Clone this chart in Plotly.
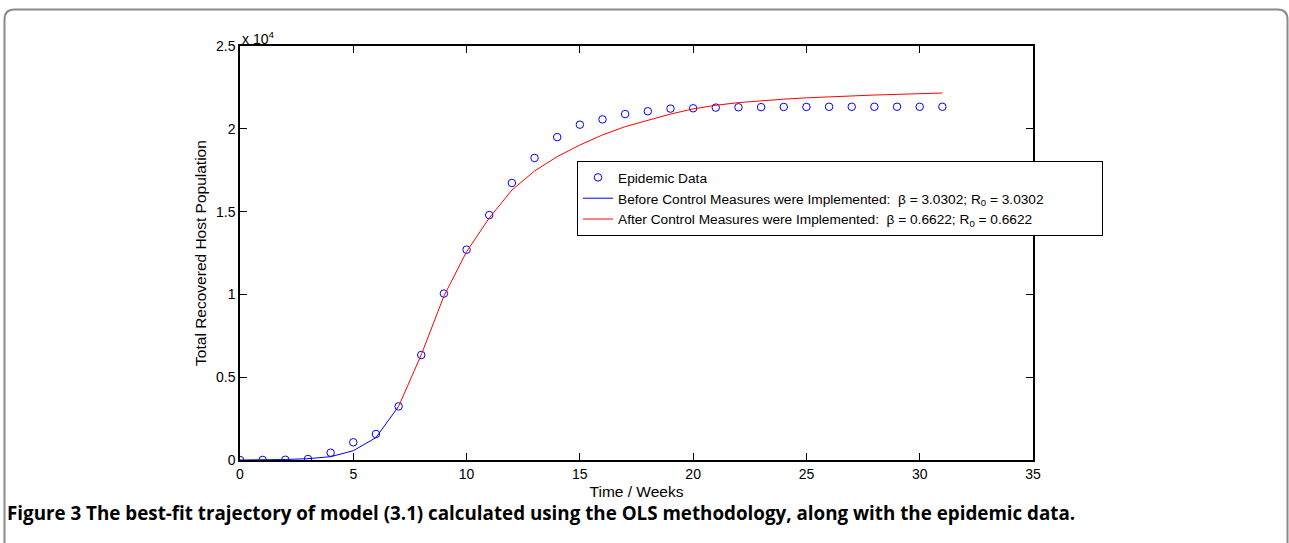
import plotly.graph_objects as go

# ---- data ----
weeks = list(range(0, 32))
epidemic_data = [0, 5, 15, 60, 440, 1070, 1570, 3240, 6340, 10050, 12700, 14790,
                 16730, 18240, 19500, 20250, 20570, 20890, 21060, 21220, 21240,
                 21280, 21300, 21310, 21320, 21320, 21330, 21330, 21330, 21330,
                 21330, 21330]

before_t = list(range(0, 8))
before_model = [0, 10, 30, 80, 200, 560, 1350, 3240]

after_t = list(range(7, 32))
after_model = [3240, 6350, 9900, 12580, 14610, 16300, 17450, 18320, 19020, 19630,
               20130, 20530, 20890, 21200, 21420, 21580, 21700, 21790, 21870,
               21940, 21990, 22040, 22080, 22120, 22160]

x_ticks = [0, 5, 10, 15, 20, 25, 30, 35]
y_ticks = [0, 5000, 10000, 15000, 20000, 25000]
y_tick_labels = ["0", "0.5", "1", "1.5", "2", "2.5"]

names = [
    "Epidemic Data",
    "Before Control Measures were Implemented:  \u03b2 = 3.0302; R<sub>0</sub> = 3.0302",
    "After Control Measures were Implemented:  \u03b2 = 0.6622; R<sub>0</sub> = 0.6622",
]
caption = ("<b>Figure 3 The best-fit trajectory of model (3.1) calculated using the OLS "
           "methodology, along with the epidemic data.</b>")

W, H = 1289, 543
L, R, T, B = 240, 256, 46, 83
PW, PH = W - L - R, H - T - B


def px(x):
    return (x - L) / PW


def py(y):
    return (H - B - y) / PH


FONT = "Liberation Sans, Arial, Helvetica, sans-serif"
pad = "\u00a0" * 17

fig = go.Figure()
fig.add_trace(go.Scatter(x=weeks, y=epidemic_data, mode="markers", name=names[0],
                         marker=dict(symbol="circle-open", size=7.5, color="#0000ff",
                                     line=dict(width=1, color="#0000ff"))))
fig.add_trace(go.Scatter(x=before_t, y=before_model, mode="lines", name=names[1],
                         line=dict(color="#0000ff", width=1)))
fig.add_trace(go.Scatter(x=after_t, y=after_model, mode="lines", name=names[2] + pad,
                         line=dict(color="#ff0000", width=1)))

axis_common = dict(showline=True, linecolor="black", linewidth=1.5, mirror="ticks",
                   ticks="inside", ticklen=7, tickcolor="black", tickwidth=1,
                   showgrid=False, zeroline=False,
                   tickfont=dict(family=FONT, size=14, color="black"))

fig.update_xaxes(range=[0, 35], tickvals=x_ticks, ticktext=[str(v) for v in x_ticks],
                 title=dict(text="Time / Weeks", font=dict(family=FONT, size=15.5, color="black"),
                            standoff=6),
                 **axis_common)
fig.update_yaxes(range=[0, 25000], tickvals=y_ticks, ticktext=y_tick_labels,
                 title=dict(text="Total Recovered Host Population",
                            font=dict(family=FONT, size=15.5, color="black"), standoff=6),
                 **axis_common)

# rounded border path (paper coords)
x0, x1 = px(4.5), px(1287.5)
y0, y1 = py(9.5), py(600)
rx, ry = 10 / PW, 10 / PH
path = (f"M {x0},{y1} L {x0},{y0 - ry} Q {x0},{y0} {x0 + rx},{y0} "
        f"L {x1 - rx},{y0} Q {x1},{y0} {x1},{y0 - ry} L {x1},{y1}")
fig.add_shape(type="path", path=path, xref="paper", yref="paper",
              line=dict(color="#8a8a8a", width=2), layer="below")

fig.add_annotation(text="x 10<sup>4</sup>", xref="paper", yref="paper",
                   x=px(240), y=py(38), xanchor="left", yanchor="middle",
                   showarrow=False, font=dict(family=FONT, size=14, color="black"))
fig.add_annotation(text=caption, xref="paper", yref="paper",
                   x=px(5), y=py(513), xanchor="left", yanchor="middle",
                   showarrow=False, font=dict(family="Open Sans, Lato, sans-serif", size=18.8,
                                               color="black"))

fig.update_layout(
    width=W, height=H, autosize=False,
    margin=dict(l=L, r=R, t=T, b=B),
    paper_bgcolor="white", plot_bgcolor="white",
    font=dict(family=FONT, size=14, color="black"),
    showlegend=True,
    legend=dict(x=px(577), y=py(161), xanchor="left", yanchor="top",
                bgcolor="white", bordercolor="black", borderwidth=1,
                font=dict(family=FONT, size=13.7, color="black"),
                itemwidth=30, tracegroupgap=0),
)

fig.write_html("out.html")
